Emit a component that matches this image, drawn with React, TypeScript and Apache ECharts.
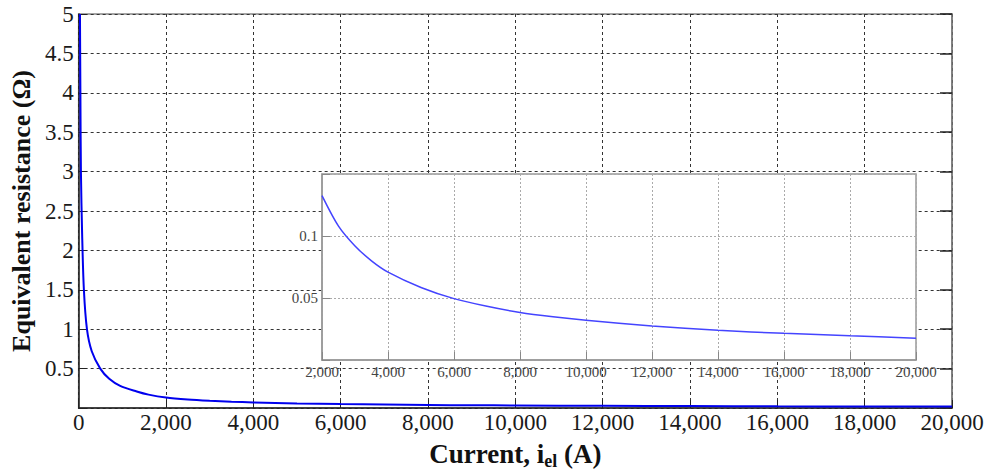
import React, { useEffect, useRef } from "react";
import * as echarts from "echarts";

// Current (A) and equivalent resistance (Ohm)
const currentA: number[] = [30, 40, 52, 80, 120, 190, 300, 495, 700, 951, 1330, 1600, 2000, 2500, 3000, 3500, 4000, 5000, 6000, 7000, 8000, 9000, 10000, 12000, 14000, 16000, 18000, 20000];
const resistance: number[] = [5.0, 4.0, 3.0, 2.2, 1.5, 1.0, 0.72, 0.5, 0.37, 0.28, 0.21, 0.17, 0.1326, 0.108, 0.092, 0.08, 0.0709, 0.0585, 0.0495, 0.0433, 0.0383, 0.0348, 0.032, 0.0274, 0.0239, 0.0215, 0.0195, 0.0176];

const mainYTicks = { min: 0, max: 5, interval: 0.5 };
const mainXTicks = { min: 0, max: 20000, interval: 2000 };
const insetYTicks = { min: 0, max: 0.15, interval: 0.05 };
const insetXTicks = { min: 2000, max: 20000, interval: 2000 };

const yAxisTitle = "Equivalent resistance (Ω)";
const xAxisTitle = "Current, i{sub|el} (A)";

const serif = "'Liberation Serif', 'Times New Roman', serif";

const fmtComma = (v: number) => v.toLocaleString("en-US");

export default function App() {
  const ref = useRef<HTMLDivElement>(null);
  useEffect(() => {
    if (!ref.current) return;
    const chart = echarts.init(ref.current, undefined, { renderer: "svg" });
    const pts = currentA.map((c, i) => [c, resistance[i]]);
    const insetPts = pts.filter((p) => p[0] >= 2000);
    chart.setOption({
      animation: false,
      backgroundColor: "#fff",
      grid: [
        { left: 75, right: 37, top: 14, bottom: 65, show: true, borderColor: "#888", borderWidth: 1.5, backgroundColor: "transparent", z: 0 },
        { left: 322, right: 73, top: 174, bottom: 115, show: true, borderColor: "#999", borderWidth: 1.5, backgroundColor: "#fff", z: 5 },
      ],
      xAxis: [
        {
          type: "value", gridIndex: 0, ...mainXTicks,
          axisLine: { show: true, lineStyle: { color: "#222", width: 1.5 } },
          axisTick: { show: true, inside: true, length: 8, lineStyle: { color: "#222" } },
          splitLine: { show: true, lineStyle: { color: "#333", type: [3, 3], width: 1 } },
          axisLabel: { formatter: fmtComma, color: "#1a1a1a", fontFamily: serif, fontSize: 23, margin: 3 },
          name: xAxisTitle, nameLocation: "middle", nameGap: 30,
          nameTextStyle: {
            fontFamily: serif, fontSize: 27, fontWeight: "bold", color: "#111",
            rich: { sub: { fontFamily: serif, fontSize: 18, fontWeight: "bold", color: "#111", padding: [14, 0, 0, 0] } },
          },
        },
        {
          type: "value", gridIndex: 1, ...insetXTicks, z: 6,
          axisLine: { show: true, lineStyle: { color: "#999", width: 1.5 } },
          axisTick: { show: true, inside: true, length: 8, lineStyle: { color: "#888" } },
          splitLine: { show: true, lineStyle: { color: "#aaa", type: [2, 2], width: 1 } },
          axisLabel: { formatter: fmtComma, color: "#444", fontFamily: serif, fontSize: 15, margin: 4 },
        },
      ],
      yAxis: [
        {
          type: "value", gridIndex: 0, ...mainYTicks,
          axisLine: { show: true, lineStyle: { color: "#222", width: 1.5 } },
          axisTick: { show: true, inside: true, length: 8, lineStyle: { color: "#222" } },
          splitLine: { show: true, lineStyle: { color: "#333", type: [3, 3], width: 1 } },
          axisLabel: { formatter: (v: number) => (v === 0 ? "" : String(v)), color: "#1a1a1a", fontFamily: serif, fontSize: 23, margin: 5 },
          name: yAxisTitle, nameLocation: "middle", nameGap: 38,
          nameTextStyle: { fontFamily: serif, fontSize: 26, fontWeight: "bold", color: "#111" },
        },
        {
          type: "value", gridIndex: 0, position: "right", ...mainYTicks,
          axisLine: { show: true, lineStyle: { color: "#777", width: 1.5 } },
          axisTick: { show: true, inside: true, length: 12, lineStyle: { color: "#222", width: 1.5 } },
          splitLine: { show: false },
          axisLabel: { show: false },
        },
        {
          type: "value", gridIndex: 1, ...insetYTicks, z: 6,
          axisLine: { show: true, lineStyle: { color: "#999", width: 1.5 } },
          axisTick: { show: true, inside: true, length: 8, lineStyle: { color: "#888" } },
          splitLine: { show: true, lineStyle: { color: "#aaa", type: [2, 2], width: 1 } },
          axisLabel: { formatter: (v: number) => (v === 0 || v > 0.12 ? "" : String(v)), color: "#444", fontFamily: serif, fontSize: 15, margin: 4 },
        },
      ],
      series: [
        {
          type: "line", xAxisIndex: 0, yAxisIndex: 0, data: pts, showSymbol: false, smooth: 0.3,
          lineStyle: { color: "#0000ee", width: 2 }, clip: true,
        },
        {
          type: "line", xAxisIndex: 1, yAxisIndex: 2, data: insetPts, showSymbol: false, smooth: 0.3, z: 7,
          lineStyle: { color: "#4444ff", width: 1.5 }, clip: true,
        },
      ],
    });
    return () => chart.dispose();
  }, []);
  return <div ref={ref} style={{ position: "fixed", left: 0, top: 0, width: 989, height: 475 }} />;
}
